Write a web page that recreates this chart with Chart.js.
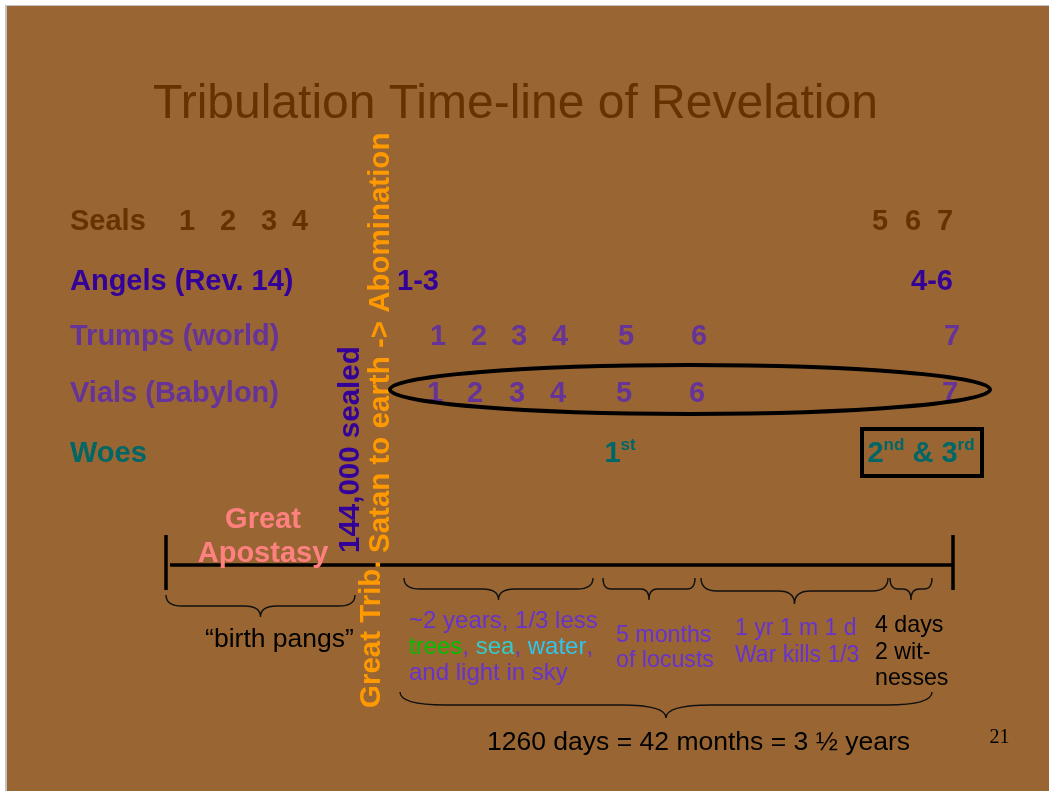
<!DOCTYPE html>
<html><head><meta charset="utf-8">
<script src="https://cdn.jsdelivr.net/npm/chart.js@4.4.0/dist/chart.umd.min.js"></script>
<style>
html,body{margin:0;padding:0;background:#fff;overflow:hidden;}
canvas{display:block;}
</style></head><body>
<canvas id="c" width="1049" height="791"></canvas>
<script>
// ---------- data ----------
const slideTitle = ['Tribulation Time-line of Revelation'];
const rowLabels = ['Seals', 'Angels (Rev. 14)', 'Trumps (world)', 'Vials (Babylon)', 'Woes'];
const rowValues = [230, 290, 345, 402, 462];
const sealLabels = ['1', '2', '3', '4', '5', '6', '7'];
const sealTimes = [187, 228, 269, 300, 880, 913, 945];
const angelLabels = ['1-3', '4-6'];
const angelTimes = [418, 932];
const trumpLabels = ['1', '2', '3', '4', '5', '6', '7'];
const trumpTimes = [438, 479, 519, 560, 626, 699, 952];
const vialLabels = ['1', '2', '3', '4', '5', '6', '7'];
const vialTimes = [435, 475, 517, 558, 624, 697, 950];
const woeLabels = ['1st', '2nd & 3rd'];
const woeTimes = [620, 921];
const timelineStart = 166, timelineEnd = 953, timelineValue = 565;
const eventLabels = ['144,000 sealed', 'Satan to earth -> Abomination', 'Great Trib.'];
const eventTimes = [351, 381, 372];
const eventValues = [553, 553, 708];
const apostasyLabel = [['Great', 'Apostasy']];
const periodTexts = [
  ['\u201Cbirth pangs\u201D'],
  ['~2 years, 1/3 less', 'trees, sea, water,', 'and light in sky'],
  ['5 months', 'of locusts'],
  ['1 yr 1 m 1 d', 'War kills 1/3'],
  ['4 days', '2 wit-', 'nesses'],
  ['1260 days = 42 months = 3 \u00BD years']
];
const braceFrom = [166, 404, 603, 701, 890, 400];
const braceTo   = [355, 593, 695, 888, 932, 932];
const braceTop  = [595, 578, 578, 578, 578, 692];
const braceTip  = [617, 600, 600, 604, 600, 718];
const pageNumber = ['21'];

// ---------- styles ----------
const FAM = '"Liberation Sans", Arial, sans-serif';
const BROWN = '#663300', INDIGO = '#330099', PURPLE = '#663399', TEAL = '#006666';
const ORANGE = '#FF9900', PINK = '#FF8080', TXTPURPLE = '#6633CC';
const rowFont = 'bold 29px ' + FAM;

function pts(xsArr, ysArr) { return xsArr.map((x, i) => ({ x: x, y: Array.isArray(ysArr) ? ysArr[i] : ysArr })); }

function toSegments(line, color, ds) {
  let segs = [{ t: line, c: color, sup: false }];
  if (ds.ordinals) {
    segs = []; const re = /(\d)(st|nd|rd|th)/g; let last = 0, m;
    while ((m = re.exec(line))) {
      const end = m.index + 1;
      segs.push({ t: line.slice(last, end), c: color });
      segs.push({ t: m[2], c: color, sup: true });
      last = re.lastIndex;
    }
    if (last < line.length) segs.push({ t: line.slice(last), c: color });
  }
  if (ds.highlight) {
    const out = [];
    segs.forEach(s => {
      s.t.split(/(\b\w+\b)/).forEach(p => { if (p) out.push({ t: p, c: ds.highlight[p] || s.c, sup: s.sup }); });
    });
    segs = out;
  }
  return segs;
}
function drawSegs(ctx, segs, x, y, align, ds, font) {
  let total = 0;
  segs.forEach(s => { ctx.font = s.sup ? ds.supFont : font; s.w = ctx.measureText(s.t).width; total += s.w; });
  let scale = 1;
  if (ds.fitWidth) scale = ds.fitWidth / total;
  const start = align === 'center' ? -total * scale / 2 : align === 'right' ? -total * scale : 0;
  ctx.save(); ctx.translate(x + start, y); ctx.scale(scale, 1);
  let cx = 0;
  segs.forEach(s => {
    ctx.font = s.sup ? ds.supFont : font; ctx.fillStyle = s.c; ctx.textAlign = 'left';
    ctx.fillText(s.t, cx, s.sup ? -(ds.supRise || 10) : 0); cx += s.w;
  });
  ctx.restore();
}
function drawItem(ctx, x, y, ds, j) {
  const t = ds.texts[j];
  const lines = Array.isArray(t) ? t : [t];
  const color = Array.isArray(ds.color) ? ds.color[j] : ds.color;
  const align = Array.isArray(ds.align) ? ds.align[j] : (ds.align || 'left');
  const font = Array.isArray(ds.font) ? ds.font[j] : ds.font;
  ctx.save();
  ctx.translate(x, y);
  if (ds.rotate) ctx.rotate(ds.rotate);
  ctx.textBaseline = ds.baseline || 'alphabetic';
  const lh = Array.isArray(ds.lineHeight) ? ds.lineHeight[j] : (ds.lineHeight || 0);
  lines.forEach((line, k) => drawSegs(ctx, toSegments(line, color, ds), 0, k * lh, align, ds, font));
  ctx.restore();
}
function brace(ctx, x0, x1, top, tip) {
  const xc = (x0 + x1) / 2, mid = (top + tip) / 2;
  const r = Math.max(8, Math.min(45, (x1 - x0) * 0.085));
  ctx.beginPath();
  ctx.moveTo(x0, top);
  ctx.quadraticCurveTo(x0, mid, x0 + r, mid);
  ctx.lineTo(xc - r, mid);
  ctx.quadraticCurveTo(xc, mid, xc, tip);
  ctx.quadraticCurveTo(xc, mid, xc + r, mid);
  ctx.lineTo(x1 - r, mid);
  ctx.quadraticCurveTo(x1, mid, x1, top);
  ctx.stroke();
}

const slidePlugin = {
  id: 'slide',
  beforeDraw(chart) {
    const ctx = chart.ctx, w = chart.width, h = chart.height;
    ctx.save();
    ctx.fillStyle = '#ffffff'; ctx.fillRect(0, 0, w, h);
    ctx.fillStyle = '#c4c4c4'; ctx.fillRect(5, 5, w - 5, h - 5);
    ctx.fillStyle = '#996633'; ctx.fillRect(7, 6, w - 7, h - 6);
    ctx.restore();
  },
  afterDatasetsDraw(chart) {
    const ctx = chart.ctx, xs = chart.scales.x, ys = chart.scales.y;
    const X = v => xs.getPixelForValue(v), Y = v => ys.getPixelForValue(v);
    ctx.save();
    ctx.strokeStyle = '#111'; ctx.lineWidth = 1.4;
    braceFrom.forEach((b, i) => brace(ctx, X(b), X(braceTo[i]), Y(braceTop[i]), Y(braceTip[i])));
    ctx.restore();
    chart.data.datasets.forEach((ds, i) => {
      if (!ds.texts) return;
      const meta = chart.getDatasetMeta(i);
      meta.data.forEach((pt, j) => drawItem(ctx, pt.x, pt.y, ds, j));
    });
    ctx.save();
    ctx.strokeStyle = '#000'; ctx.lineWidth = 4;
    ctx.beginPath();
    ctx.ellipse(X(690), Y(389.5), X(990) - X(690), Y(414) - Y(389.5), 0, 0, Math.PI * 2);
    ctx.stroke();
    ctx.strokeRect(X(862), Y(429), X(982) - X(862), Y(476) - Y(429));
    ctx.restore();
  }
};

const lineDs = (data) => ({ type: 'line', data, borderColor: '#000', borderWidth: 3.5, pointRadius: 0, fill: false, borderCapStyle: 'butt' });
const textDs = (data, extra) => Object.assign({ type: 'scatter', data, pointRadius: 0, pointHoverRadius: 0, showLine: false, supFont: extra.font }, extra);

new Chart(document.getElementById('c'), {
  type: 'scatter',
  data: {
    datasets: [
      lineDs([{ x: timelineStart + 4, y: timelineValue }, { x: timelineEnd, y: timelineValue }]),
      lineDs([{ x: timelineStart, y: 535 }, { x: timelineStart, y: 590 }]),
      lineDs([{ x: timelineEnd, y: 535 }, { x: timelineEnd, y: 590 }]),
      textDs(pts([515.5], 118), { texts: slideTitle, font: '48px ' + FAM, color: BROWN, align: 'center' }),
      textDs(pts(rowValues.map(() => 70), rowValues), { texts: rowLabels, font: rowFont, color: [BROWN, INDIGO, PURPLE, PURPLE, TEAL] }),
      textDs(pts(sealTimes, rowValues[0]), { texts: sealLabels, font: rowFont, color: BROWN, align: 'center' }),
      textDs(pts(angelTimes, rowValues[1]), { texts: angelLabels, font: rowFont, color: INDIGO, align: 'center' }),
      textDs(pts(trumpTimes, rowValues[2]), { texts: trumpLabels, font: rowFont, color: PURPLE, align: 'center' }),
      textDs(pts(vialTimes, rowValues[3]), { texts: vialLabels, font: rowFont, color: PURPLE, align: 'center' }),
      textDs(pts(woeTimes, rowValues[4]), { texts: woeLabels, font: rowFont, supFont: 'bold 17px ' + FAM, supRise: 12, ordinals: true, color: TEAL, align: 'center' }),
      textDs(pts(eventTimes, eventValues), { texts: eventLabels, font: 'bold 29.5px ' + FAM, color: [INDIGO, ORANGE, ORANGE], rotate: -Math.PI / 2, baseline: 'middle' }),
      textDs(pts([263], 528), { texts: apostasyLabel, font: 'bold 29px ' + FAM, color: PINK, align: 'center', lineHeight: 34 }),
      textDs(pts([279.5, 409, 616, 735, 875], [647, 628, 642, 635, 632]), {
        texts: periodTexts.slice(0, 5),
        font: ['26.5px ' + FAM, '24px ' + FAM, '23.2px ' + FAM, '23px ' + FAM, '23.2px ' + FAM],
        color: ['#000', TXTPURPLE, TXTPURPLE, TXTPURPLE, '#000'],
        align: ['center', 'left', 'left', 'left', 'left'],
        lineHeight: [26, 26, 25, 27, 26.5],
        highlight: { trees: '#00C000', sea: '#33CCCC', water: '#30C4EE' }
      }),
      textDs(pts([698.5], 750), { texts: periodTexts.slice(5), font: '25px ' + FAM, color: '#000', align: 'center', fitWidth: 423 }),
      textDs(pts([999.5], 743), { texts: pageNumber, font: '20px "Liberation Serif", "Times New Roman", serif', color: '#000', align: 'center' })
    ]
  },
  options: {
    responsive: false,
    animation: false,
    events: [],
    layout: { padding: 0 },
    plugins: { legend: { display: false }, tooltip: { enabled: false }, title: { display: false } },
    scales: {
      x: { type: 'linear', min: 0, max: 1049, display: false },
      y: { type: 'linear', min: 0, max: 791, reverse: true, display: false }
    }
  },
  plugins: [slidePlugin]
});
</script>
</body></html>
